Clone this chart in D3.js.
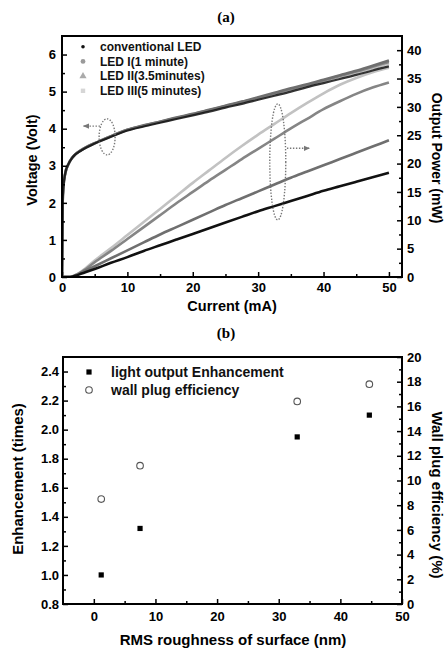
<!DOCTYPE html>
<html>
<head>
<meta charset="utf-8">
<script src="https://cdn.jsdelivr.net/npm/d3@7"></script>
<style>
    body { margin: 0; background: #fff; }
    svg { display: block; font-family: "Liberation Sans", Arial, sans-serif; }
</style>
</head>
<body>
<div id="chart"></div>
<script>
// ---- Panel (a): L-I-V curves ----
const currentMA = [0, 0.1, 0.2, 0.5, 1, 1.5, 2, 3, 5, 7.5, 10, 12.5, 15, 17.5, 20,
    22.5, 25, 27.5, 30, 32.5, 35, 37.5, 40, 42.5, 45, 47.5, 50];

const voltConv = [0, 2.0, 2.4, 2.8, 3.05, 3.2, 3.3, 3.42, 3.6, 3.78, 3.95, 4.06, 4.16, 4.26, 4.36,
    4.46, 4.57, 4.67, 4.78, 4.89, 5.0, 5.12, 5.23, 5.34, 5.45, 5.57, 5.68];
const voltLed1 = [0, 2.0, 2.4, 2.8, 3.05, 3.2, 3.3, 3.43, 3.61, 3.8, 3.97, 4.09, 4.19, 4.3, 4.4,
    4.51, 4.62, 4.73, 4.85, 4.97, 5.09, 5.2, 5.32, 5.44, 5.56, 5.7, 5.84];
const voltLed2 = [0, 2.0, 2.4, 2.8, 3.05, 3.2, 3.3, 3.43, 3.61, 3.8, 3.97, 4.08, 4.19, 4.29, 4.39,
    4.5, 4.61, 4.72, 4.83, 4.95, 5.07, 5.18, 5.3, 5.42, 5.54, 5.67, 5.8];
const voltLed3 = [0, 2.0, 2.4, 2.8, 3.05, 3.2, 3.3, 3.42, 3.6, 3.79, 3.96, 4.07, 4.18, 4.28, 4.38,
    4.49, 4.6, 4.71, 4.82, 4.93, 5.05, 5.16, 5.28, 5.4, 5.51, 5.63, 5.76];

const powerConv = [0, 0, 0, 0, 0, 0.05, 0.2, 0.6, 1.4, 2.5, 3.5, 4.6, 5.6, 6.6, 7.6,
    8.6, 9.6, 10.6, 11.6, 12.5, 13.4, 14.3, 15.2, 16.0, 16.8, 17.6, 18.4];
const powerLed1 = [0, 0, 0, 0, 0, 0.05, 0.2, 0.8, 1.9, 3.3, 4.7, 6.1, 7.5, 8.8, 10.1,
    11.4, 12.7, 13.9, 15.1, 16.3, 17.5, 18.6, 19.7, 20.8, 21.9, 23.0, 24.1];
const powerLed2 = [0, 0, 0, 0, 0, 0.05, 0.3, 0.9, 2.6, 4.6, 6.7, 8.8, 10.9, 13.0, 15.0,
    17.0, 18.9, 20.8, 22.6, 24.4, 26.2, 27.9, 29.6, 31.0, 32.3, 33.4, 34.3];
const powerLed3 = [0, 0, 0, 0, 0, 0.05, 0.3, 1.0, 2.9, 5.1, 7.4, 9.7, 12.0, 14.3, 16.6,
    18.8, 21.0, 23.1, 25.1, 27.0, 28.9, 30.7, 32.4, 33.9, 35.1, 36.1, 36.9];

const ledNames = ['conventional LED', 'LED I(1 minute)', 'LED II(3.5minutes)', 'LED III(5 minutes)'];
const ledColors = ['#111111', '#6f6f6f', '#858585', '#c2c2c2'];
const ledMarkerColors = ['#111111', '#9a9a9a', '#aaaaaa', '#d6d6d6'];
const ledMarkers = ['dot', 'circle', 'triangle', 'square'];

// ---- Panel (b): enhancement vs roughness ----
const roughnessNm = [1.2, 7.5, 33, 44.7];
const enhancement = [1.0, 1.32, 1.95, 2.1];
const wallPlugEff = [8.5, 11.2, 16.4, 17.8];

const W = 447, H = 649;

const Chart = {
    svg: null,

    init() {
        this.svg = d3.select('#chart').append('svg')
            .attr('width', W)
            .attr('height', H);

        this.drawPanelA();
        this.drawPanelB();
    },

    // Shared frame + inward ticks
    drawAxes(g, x, yL, yR, cfg) {
        const [x0, x1] = x.range();
        const [yb, yt] = yL.range();

        const style = sel => {
            sel.select('.domain').remove();
            sel.selectAll('line').attr('stroke', '#000').attr('stroke-width', 1.5);
            sel.selectAll('text')
                .attr('fill', '#000')
                .attr('font-size', '13px')
                .attr('font-weight', 'bold');
        };

        // x axis
        g.append('g').attr('transform', `translate(0,${yb})`)
            .call(d3.axisBottom(x).tickValues(cfg.xMajor).tickSize(-5).tickPadding(cfg.xPad).tickFormat(d3.format('d')))
            .call(style);
        g.append('g').attr('transform', `translate(0,${yb})`)
            .call(d3.axisBottom(x).tickValues(cfg.xMinor).tickSize(-3).tickFormat(''))
            .call(style);

        // left axis
        g.append('g').attr('transform', `translate(${x0},0)`)
            .call(d3.axisLeft(yL).tickValues(cfg.lMajor).tickSize(-5).tickPadding(cfg.lPad).tickFormat(cfg.lFormat))
            .call(style);
        g.append('g').attr('transform', `translate(${x0},0)`)
            .call(d3.axisLeft(yL).tickValues(cfg.lMinor).tickSize(-3).tickFormat(''))
            .call(style);

        // right axis
        g.append('g').attr('transform', `translate(${x1},0)`)
            .call(d3.axisRight(yR).tickValues(cfg.rMajor).tickSize(-5).tickPadding(5).tickFormat(d3.format('d')))
            .call(style);
        g.append('g').attr('transform', `translate(${x1},0)`)
            .call(d3.axisRight(yR).tickValues(cfg.rMinor).tickSize(-3).tickFormat(''))
            .call(style);

        // frame
        g.append('rect')
            .attr('x', x0).attr('y', yt)
            .attr('width', x1 - x0).attr('height', yb - yt)
            .attr('fill', 'none')
            .attr('stroke', '#000')
            .attr('stroke-width', 2);
    },

    axisTitle(g, text, tx, ty, rot, size) {
        g.append('text')
            .attr('transform', `translate(${tx},${ty}) rotate(${rot})`)
            .attr('text-anchor', 'middle')
            .attr('dy', '0.35em')
            .attr('font-size', size)
            .attr('font-weight', 'bold')
            .attr('fill', '#000')
            .text(text);
    },

    panelLabel(text, y) {
        this.svg.append('text')
            .attr('x', 226).attr('y', y)
            .attr('text-anchor', 'middle')
            .attr('dy', '0.35em')
            .attr('font-family', '"Liberation Serif", "Times New Roman", serif')
            .attr('font-size', '15px')
            .attr('font-weight', 'bold')
            .text(text);
    },

    marker(g, type, cx, cy, color) {
        if (type === 'dot') {
            g.append('circle').attr('cx', cx).attr('cy', cy).attr('r', 1.8).attr('fill', color);
        } else if (type === 'circle') {
            g.append('circle').attr('cx', cx).attr('cy', cy).attr('r', 2.4).attr('fill', color);
        } else if (type === 'triangle') {
            g.append('path')
                .attr('transform', `translate(${cx},${cy})`)
                .attr('d', d3.symbol(d3.symbolTriangle, 22)())
                .attr('fill', color);
        } else {
            g.append('rect').attr('x', cx - 2.2).attr('y', cy - 2.2)
                .attr('width', 4.4).attr('height', 4.4).attr('fill', color);
        }
    },

    // Panel (a)
    drawPanelA() {
        const g = this.svg.append('g');
        this.panelLabel('(a)', 17);

        const x = d3.scaleLinear().domain([0, 52]).range([62, 402]);
        const yV = d3.scaleLinear().domain([0, 6.5]).range([277, 36]);
        const yP = d3.scaleLinear().domain([0, 42.5]).range([277, 36]);

        const voltSeries = [voltConv, voltLed1, voltLed2, voltLed3];
        const powerSeries = [powerConv, powerLed1, powerLed2, powerLed3];

        g.append('clipPath').attr('id', 'clipA')
            .append('rect').attr('x', 62).attr('y', 36).attr('width', 340).attr('height', 241);
        const plot = g.append('g').attr('clip-path', 'url(#clipA)');

        const lineV = d3.line().x((d, i) => x(currentMA[i])).y(d => yV(d)).curve(d3.curveMonotoneX);
        const lineP = d3.line().x((d, i) => x(currentMA[i])).y(d => yP(d)).curve(d3.curveMonotoneX);

        // draw lighter series first so the black one ends on top
        [3, 2, 1, 0].forEach(k => {
            plot.append('path')
                .attr('d', lineP(powerSeries[k]))
                .attr('fill', 'none')
                .attr('stroke', ledColors[k])
                .attr('stroke-width', 2.6);
        });
        [3, 2, 1, 0].forEach(k => {
            plot.append('path')
                .attr('d', lineV(voltSeries[k]))
                .attr('fill', 'none')
                .attr('stroke', ledColors[k])
                .attr('stroke-width', k === 0 ? 2.2 : 2.6)
                .attr('opacity', k === 0 ? 0.85 : 1);
        });

        this.drawAxes(g, x, yV, yP, {
            xMajor: d3.range(0, 51, 10), xMinor: d3.range(5, 50, 10), xPad: 6,
            lMajor: d3.range(0, 7, 1), lMinor: d3.range(0.5, 6.5, 1), lPad: 6, lFormat: d3.format('d'),
            rMajor: d3.range(0, 41, 5), rMinor: d3.range(2.5, 42, 5)
        });

        // Dotted ellipses with arrows pointing to the matching axis
        const notes = [
            { i: 6.9, v: 3.78, scale: yV, rx: 8, ry: 18, ay: 4.07, from: 5.8, to: 3.3 },
            { i: 33.0, v: 20.3, scale: yP, rx: 8, ry: 58, ay: 22.7, from: 34.4, to: 37.8 }
        ];
        const defs = g.append('defs');
        defs.append('marker')
            .attr('id', 'arrowHead')
            .attr('viewBox', '0 0 10 10')
            .attr('refX', 8).attr('refY', 5)
            .attr('markerWidth', 5).attr('markerHeight', 5)
            .attr('orient', 'auto')
            .append('path').attr('d', 'M0,1 L9,5 L0,9 Z').attr('fill', '#777');

        notes.forEach(n => {
            g.append('ellipse')
                .attr('cx', x(n.i)).attr('cy', n.scale(n.v))
                .attr('rx', n.rx).attr('ry', n.ry)
                .attr('fill', 'none')
                .attr('stroke', '#777')
                .attr('stroke-width', 1.4)
                .attr('stroke-dasharray', '1.4,1.6');
            g.append('line')
                .attr('x1', x(n.from)).attr('y1', n.scale(n.ay))
                .attr('x2', x(n.to)).attr('y2', n.scale(n.ay))
                .attr('stroke', '#777')
                .attr('stroke-width', 1.4)
                .attr('stroke-dasharray', '1.4,1.6')
                .attr('marker-end', 'url(#arrowHead)');
        });

        // Legend
        const legend = g.append('g');
        ledNames.forEach((name, k) => {
            const ly = 46.7 + k * 14.7;
            this.marker(legend, ledMarkers[k], 83, ly, ledMarkerColors[k]);
            legend.append('text')
                .attr('x', 100).attr('y', ly)
                .attr('dy', '0.35em')
                .attr('font-size', '12px')
                .attr('font-weight', 'bold')
                .attr('fill', '#111')
                .text(name);
        });

        this.axisTitle(g, 'Current (mA)', 232, 306, 0, '14.5px');
        this.axisTitle(g, 'Voltage (Volt)', 32, 160, -90, '14.5px');
        this.axisTitle(g, 'Output Power (mW)', 437, 158, 90, '14px');
    },

    // Panel (b)
    drawPanelB() {
        const g = this.svg.append('g');
        this.panelLabel('(b)', 333);

        const x = d3.scaleLinear().domain([-5, 50]).range([63, 402]);
        const yE = d3.scaleLinear().domain([0.8, 2.5]).range([604, 357]);
        const yW = d3.scaleLinear().domain([0, 20]).range([604, 357]);

        this.drawAxes(g, x, yE, yW, {
            xMajor: d3.range(0, 51, 10), xMinor: d3.range(5, 50, 10), xPad: 8,
            lMajor: d3.range(0.8, 2.45, 0.2), lMinor: d3.range(0.9, 2.45, 0.2), lPad: 4, lFormat: d3.format('.1f'),
            rMajor: d3.range(0, 21, 2), rMinor: d3.range(1, 20, 2)
        });

        // light output enhancement (squares)
        g.selectAll('.sq')
            .data(roughnessNm)
            .join('rect')
            .attr('class', 'sq')
            .attr('x', d => x(d) - 2.6)
            .attr('y', (d, i) => yE(enhancement[i]) - 2.6)
            .attr('width', 5.2).attr('height', 5.2)
            .attr('fill', '#000');

        // wall plug efficiency (open circles)
        g.selectAll('.oc')
            .data(roughnessNm)
            .join('circle')
            .attr('class', 'oc')
            .attr('cx', d => x(d))
            .attr('cy', (d, i) => yW(wallPlugEff[i]))
            .attr('r', 3.3)
            .attr('fill', '#fff')
            .attr('stroke', '#555')
            .attr('stroke-width', 1.1);

        // Legend
        g.append('rect').attr('x', 89 - 2.6).attr('y', 372 - 2.6)
            .attr('width', 5.2).attr('height', 5.2).attr('fill', '#000');
        g.append('circle').attr('cx', 89).attr('cy', 390).attr('r', 3.3)
            .attr('fill', '#fff').attr('stroke', '#555').attr('stroke-width', 1.1);
        [['light output Enhancement', 372], ['wall plug efficiency', 390]].forEach(([t, ly]) => {
            g.append('text')
                .attr('x', 111).attr('y', ly)
                .attr('dy', '0.35em')
                .attr('font-size', '14px')
                .attr('font-weight', 'bold')
                .attr('fill', '#111')
                .text(t);
        });

        this.axisTitle(g, 'RMS roughness of surface (nm)', 233, 640, 0, '15px');
        this.axisTitle(g, 'Enhancement (times)', 18, 479, -90, '15px');
        this.axisTitle(g, 'Wall plug efficiency (%)', 437, 495, 90, '15px');
    }
};

Chart.init();
</script>
</body>
</html>
